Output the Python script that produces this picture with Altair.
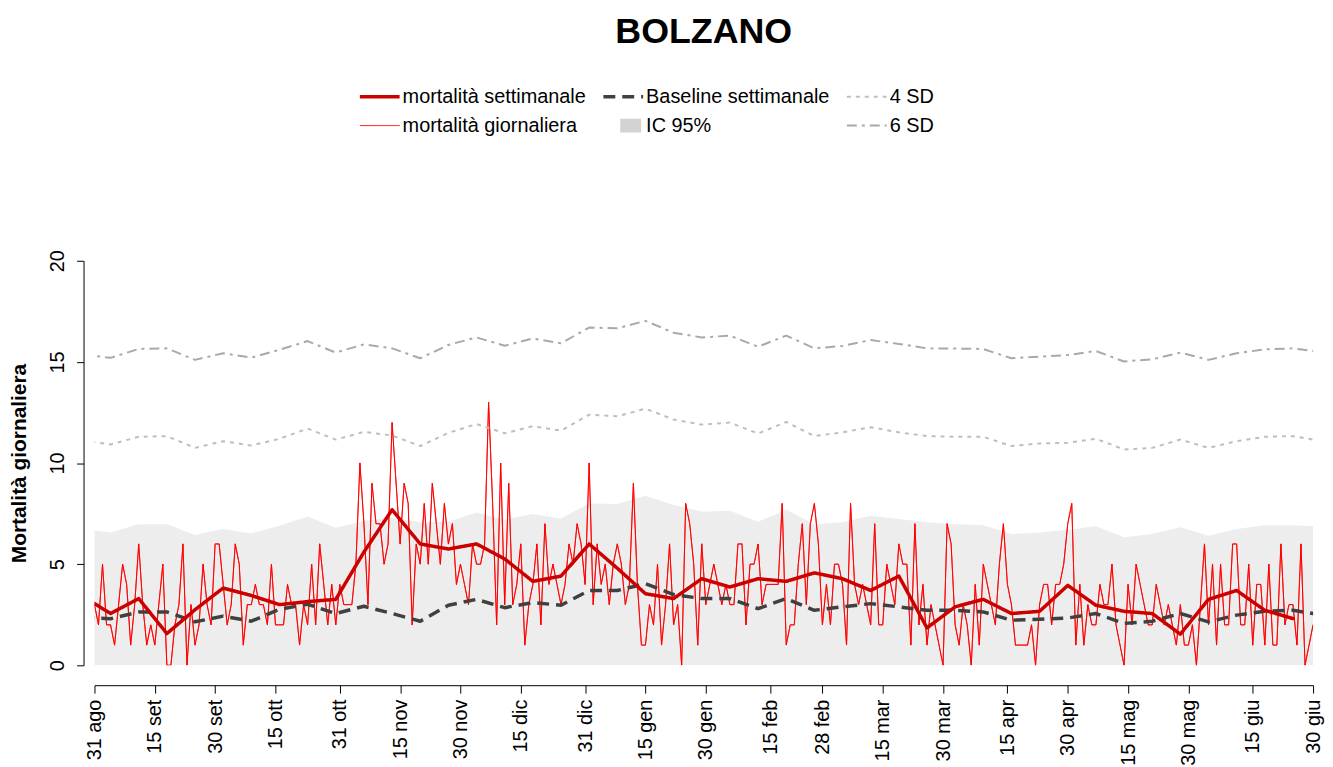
import altair as alt
import pandas as pd

# ---------------- data ----------------
TITLE = "BOLZANO"
Y_TITLE = "Mortalità giornaliera"

SERIES = ["mortalità settimanale", "Baseline settimanale", "4 SD",
          "mortalità giornaliera", "IC 95%", "6 SD"]

daily_start = "2020-08-31"
daily_deaths = [
    3, 2, 5, 2, 2, 1, 3, 5, 4, 1,
    3, 6, 3, 1, 2, 1, 3, 5, 0, 0,
    2, 3, 6, 0, 3, 1, 2, 5, 3, 2,
    6, 6, 4, 2, 3, 6, 5, 1, 3, 3,
    4, 3, 3, 2, 5, 2, 2, 2, 4, 3,
    3, 1, 3, 2, 5, 2, 6, 4, 2, 4,
    2, 4, 3, 3, 3, 5, 10, 7, 3, 9,
    7, 7, 5, 6, 12, 9, 6, 9, 8, 2,
    6, 5, 8, 5, 9, 7, 5, 8, 6, 7,
    4, 5, 4, 3, 6, 5, 5, 6, 13, 8,
    2, 10, 3, 9, 3, 4, 6, 1, 3, 4,
    6, 2, 7, 4, 5, 4, 3, 4, 6, 5,
    7, 6, 4, 10, 3, 6, 4, 5, 3, 5,
    6, 5, 3, 4, 9, 4, 1, 1, 3, 2,
    5, 1, 3, 6, 2, 3, 0, 8, 7, 5,
    1, 6, 3, 4, 5, 4, 3, 4, 3, 3,
    6, 6, 2, 5, 5, 6, 3, 4, 4, 4,
    4, 8, 1, 2, 2, 5, 7, 3, 7, 8,
    6, 2, 4, 2, 5, 5, 4, 1, 8, 4,
    3, 4, 3, 2, 7, 2, 2, 5, 4, 3,
    6, 5, 5, 1, 7, 2, 4, 1, 3, 2,
    1, 0, 7, 6, 2, 1, 3, 2, 0, 4,
    1, 5, 4, 3, 2, 5, 7, 4, 3, 1,
    1, 1, 1, 2, 0, 3, 4, 4, 2, 4,
    4, 5, 7, 8, 1, 4, 1, 3, 2, 2,
    4, 3, 3, 5, 2, 1, 0, 4, 2, 5,
    4, 3, 2, 2, 4, 3, 2, 3, 2, 1,
    3, 1, 1, 2, 0, 3, 6, 2, 5, 1,
    5, 2, 2, 6, 6, 2, 2, 5, 1, 4,
    4, 1, 5, 1, 1, 6, 2, 3, 3, 1,
    6, 0, 1, 2,
]

# weekly series, one value per week (first week starts before the plotted range)
weekly_start = "2020-08-28T00:00:00Z"
weekly_mortality = [
    3.42, 2.56, 3.30, 1.57, 2.75, 3.82, 3.45, 3.00, 3.15, 3.26,
    5.60, 7.69, 6.00, 5.75, 6.00, 5.26, 4.15, 4.41, 6.00, 4.80,
    3.54, 3.30, 4.28, 3.87, 4.28, 4.15, 4.57, 4.28, 3.70, 4.41,
    1.85, 2.89, 3.26, 2.56, 2.67, 3.95, 2.97, 2.67, 2.56, 1.54,
    3.26, 3.70, 2.72, 2.31,
]
baseline_weekly = [
    2.37, 2.30, 2.64, 2.64, 2.15, 2.43, 2.18, 2.77, 3.02, 2.56,
    2.92, 2.56, 2.18, 2.97, 3.26, 2.85, 3.10, 2.97, 3.70, 3.70,
    4.03, 3.50, 3.30, 3.30, 2.80, 3.30, 2.72, 2.89, 3.05, 2.89,
    2.72, 2.72, 2.64, 2.23, 2.28, 2.34, 2.56, 2.07, 2.18, 2.56,
    2.15, 2.48, 2.67, 2.72, 2.50,
]
ic95_upper = [
    6.73, 6.57, 6.98, 6.98, 6.44, 6.74, 6.52, 6.90, 7.36, 6.80,
    7.15, 7.30, 7.07, 7.10, 7.56, 7.20, 7.48, 7.26, 8.00, 7.97,
    8.38, 7.92, 7.59, 7.64, 7.10, 7.69, 6.98, 7.07, 7.40, 7.23,
    7.07, 6.98, 6.93, 6.49, 6.57, 6.70, 6.87, 6.33, 6.49, 6.82,
    6.41, 6.74, 6.93, 6.93, 6.85,
]
sd4_weekly = [
    11.11, 10.92, 11.30, 11.33, 10.75, 11.08, 10.87, 11.20, 11.70, 11.16,
    11.54, 11.36, 10.84, 11.49, 11.93, 11.47, 11.82, 11.60, 12.39, 12.31,
    12.69, 12.15, 11.90, 12.00, 11.46, 12.03, 11.33, 11.52, 11.77, 11.52,
    11.33, 11.30, 11.30, 10.84, 10.97, 11.00, 11.20, 10.67, 10.75, 11.16,
    10.75, 11.08, 11.30, 11.33, 11.09,
]
sd6_weekly = [
    15.37, 15.20, 15.64, 15.67, 15.10, 15.43, 15.21, 15.60, 16.03, 15.46,
    15.87, 15.67, 15.18, 15.84, 16.21, 15.80, 16.16, 15.92, 16.70, 16.66,
    17.03, 16.44, 16.21, 16.30, 15.75, 16.30, 15.67, 15.79, 16.08, 15.89,
    15.67, 15.66, 15.64, 15.18, 15.26, 15.34, 15.54, 15.02, 15.13, 15.46,
    15.10, 15.43, 15.62, 15.67, 15.49,
]

tick_dates = ["2020-08-31", "2020-09-15", "2020-09-30", "2020-10-15", "2020-10-31",
              "2020-11-15", "2020-11-30", "2020-12-15", "2020-12-31", "2021-01-15",
              "2021-01-30", "2021-02-15", "2021-02-28", "2021-03-15", "2021-03-30",
              "2021-04-15", "2021-04-30", "2021-05-15", "2021-05-30", "2021-06-15",
              "2021-06-30"]
month_names = ["gen", "feb", "mar", "apr", "mag", "giu",
               "lug", "ago", "set", "ott", "nov", "dic"]
y_ticks = [0, 5, 10, 15, 20]
x_range = ["2020-08-31", "2021-06-30"]

# ---------------- styles ----------------
COLORS = ["#CD0000", "#404040", "#BEBEBE", "#FF0000", "#D3D3D3", "#A9A9A9"]
# the "IC 95%" dash only shapes its legend swatch (a short box next to the label)
DASHES = [[1, 0], [12, 7], [4, 5], [1, 0], [0, 17, 21, 100], [10, 5, 3, 5]]
FONT = "Liberation Sans"

# ---------------- tables ----------------
def dt(s):
    y, m, d = (int(p) for p in s.split("-"))
    return alt.DateTime(year=y, month=m, date=d, utc=True)

daily_dates = pd.date_range(daily_start, periods=len(daily_deaths), freq="D")
df_daily = pd.DataFrame({
    "date": [d.strftime("%Y-%m-%d") for d in daily_dates],
    "value": daily_deaths,
    "serie": "mortalità giornaliera",
})

def weekly_frame(values, name):
    dates = pd.date_range(weekly_start, periods=len(values), freq="7D")
    return pd.DataFrame({
        "date": [d.strftime("%Y-%m-%dT%H:%M:%SZ") for d in dates],
        "value": values,
        "serie": name,
    })

df_week = weekly_frame(weekly_mortality, "mortalità settimanale")
df_base = weekly_frame(baseline_weekly, "Baseline settimanale")
df_ic = weekly_frame(ic95_upper, "IC 95%")
df_sd4 = weekly_frame(sd4_weekly, "4 SD")
df_sd6 = weekly_frame(sd6_weekly, "6 SD")

# ---------------- encodings ----------------
month_js = "[" + ",".join("'%s'" % m for m in month_names) + "]"
x_enc = alt.X(
    "date:T",
    scale=alt.Scale(type="utc", domain=[dt(x_range[0]), dt(x_range[1])]),
    axis=alt.Axis(
        values=[dt(s) for s in tick_dates],
        labelExpr="utcdate(datum.value) + ' ' + " + month_js + "[utcmonth(datum.value)]",
        labelAngle=270, labelAlign="right", labelBaseline="middle",
        labelFontSize=20, labelPadding=6, labelFlush=False, labelOverlap=False,
        labelBound=False, tickSize=8, offset=20, grid=False, title=None,
    ),
)
y_enc = alt.Y(
    "value:Q",
    scale=alt.Scale(domain=[0, 20], nice=False, zero=True),
    axis=alt.Axis(
        values=y_ticks, labelAngle=270, labelAlign="center", labelBaseline="bottom",
        labelFontSize=20, labelPadding=9, labelFlush=False, tickSize=7, offset=11,
        grid=False, title=Y_TITLE, titleFontSize=21, titleFontWeight="bold",
        titlePadding=18,
    ),
)
legend = alt.Legend(
    title=None, orient="none", legendX=277, legendY=-184, columns=3,
    direction="horizontal", gridAlign="all",
    symbolType="stroke", symbolSize=1600, rowPadding=-22,
    columnPadding=-11, labelFontSize=20, labelOffset=13, padding=0,
    symbolStrokeWidth={"expr": "datum.value === 'IC 95%' ? 14 : "
                               "datum.value === 'mortalità giornaliera' ? 1 : "
                               "(datum.value === 'mortalità settimanale' || "
                               "datum.value === 'Baseline settimanale') ? 3.5 : 2"},
    labelLimit=400,
)
color_enc = alt.Color("serie:N", scale=alt.Scale(domain=SERIES, range=COLORS), legend=legend)
dash_enc = alt.StrokeDash("serie:N", scale=alt.Scale(domain=SERIES, range=DASHES), legend=legend)

area = alt.Chart(df_ic).mark_area(clip=True, fillOpacity=0.4).encode(
    x=x_enc, y=y_enc, color=color_enc)

def line(df, width, cap="butt"):
    return alt.Chart(df).mark_line(clip=True, strokeWidth=width, strokeJoin="round",
                                   strokeCap=cap).encode(
        x=x_enc, y=y_enc, color=color_enc, strokeDash=dash_enc)

chart = alt.layer(
    area,
    line(df_daily, 1, "round"),
    line(df_base, 3.5),
    line(df_sd4, 2),
    line(df_sd6, 2),
    line(df_week, 3.5, "round"),
).properties(
    width=1226, height=407,
    title=alt.TitleParams(TITLE, fontSize=36, fontWeight="bold", anchor="middle",
                          font=FONT, color="black", dy=-23),
    autosize=alt.AutoSizeParams(type="none"),
    padding={"left": 87, "top": 252, "right": 12, "bottom": 100},
).configure(
    font=FONT,
).configure_view(
    stroke=None,
).configure_axis(
    labelFont=FONT, titleFont=FONT, labelColor="black", titleColor="black",
    domainColor="black", tickColor="black", domainWidth=1, tickWidth=1,
).configure_legend(
    labelFont=FONT, labelColor="black",
)

chart.save("out.html", embed_options={"renderer": "svg", "actions": False})
